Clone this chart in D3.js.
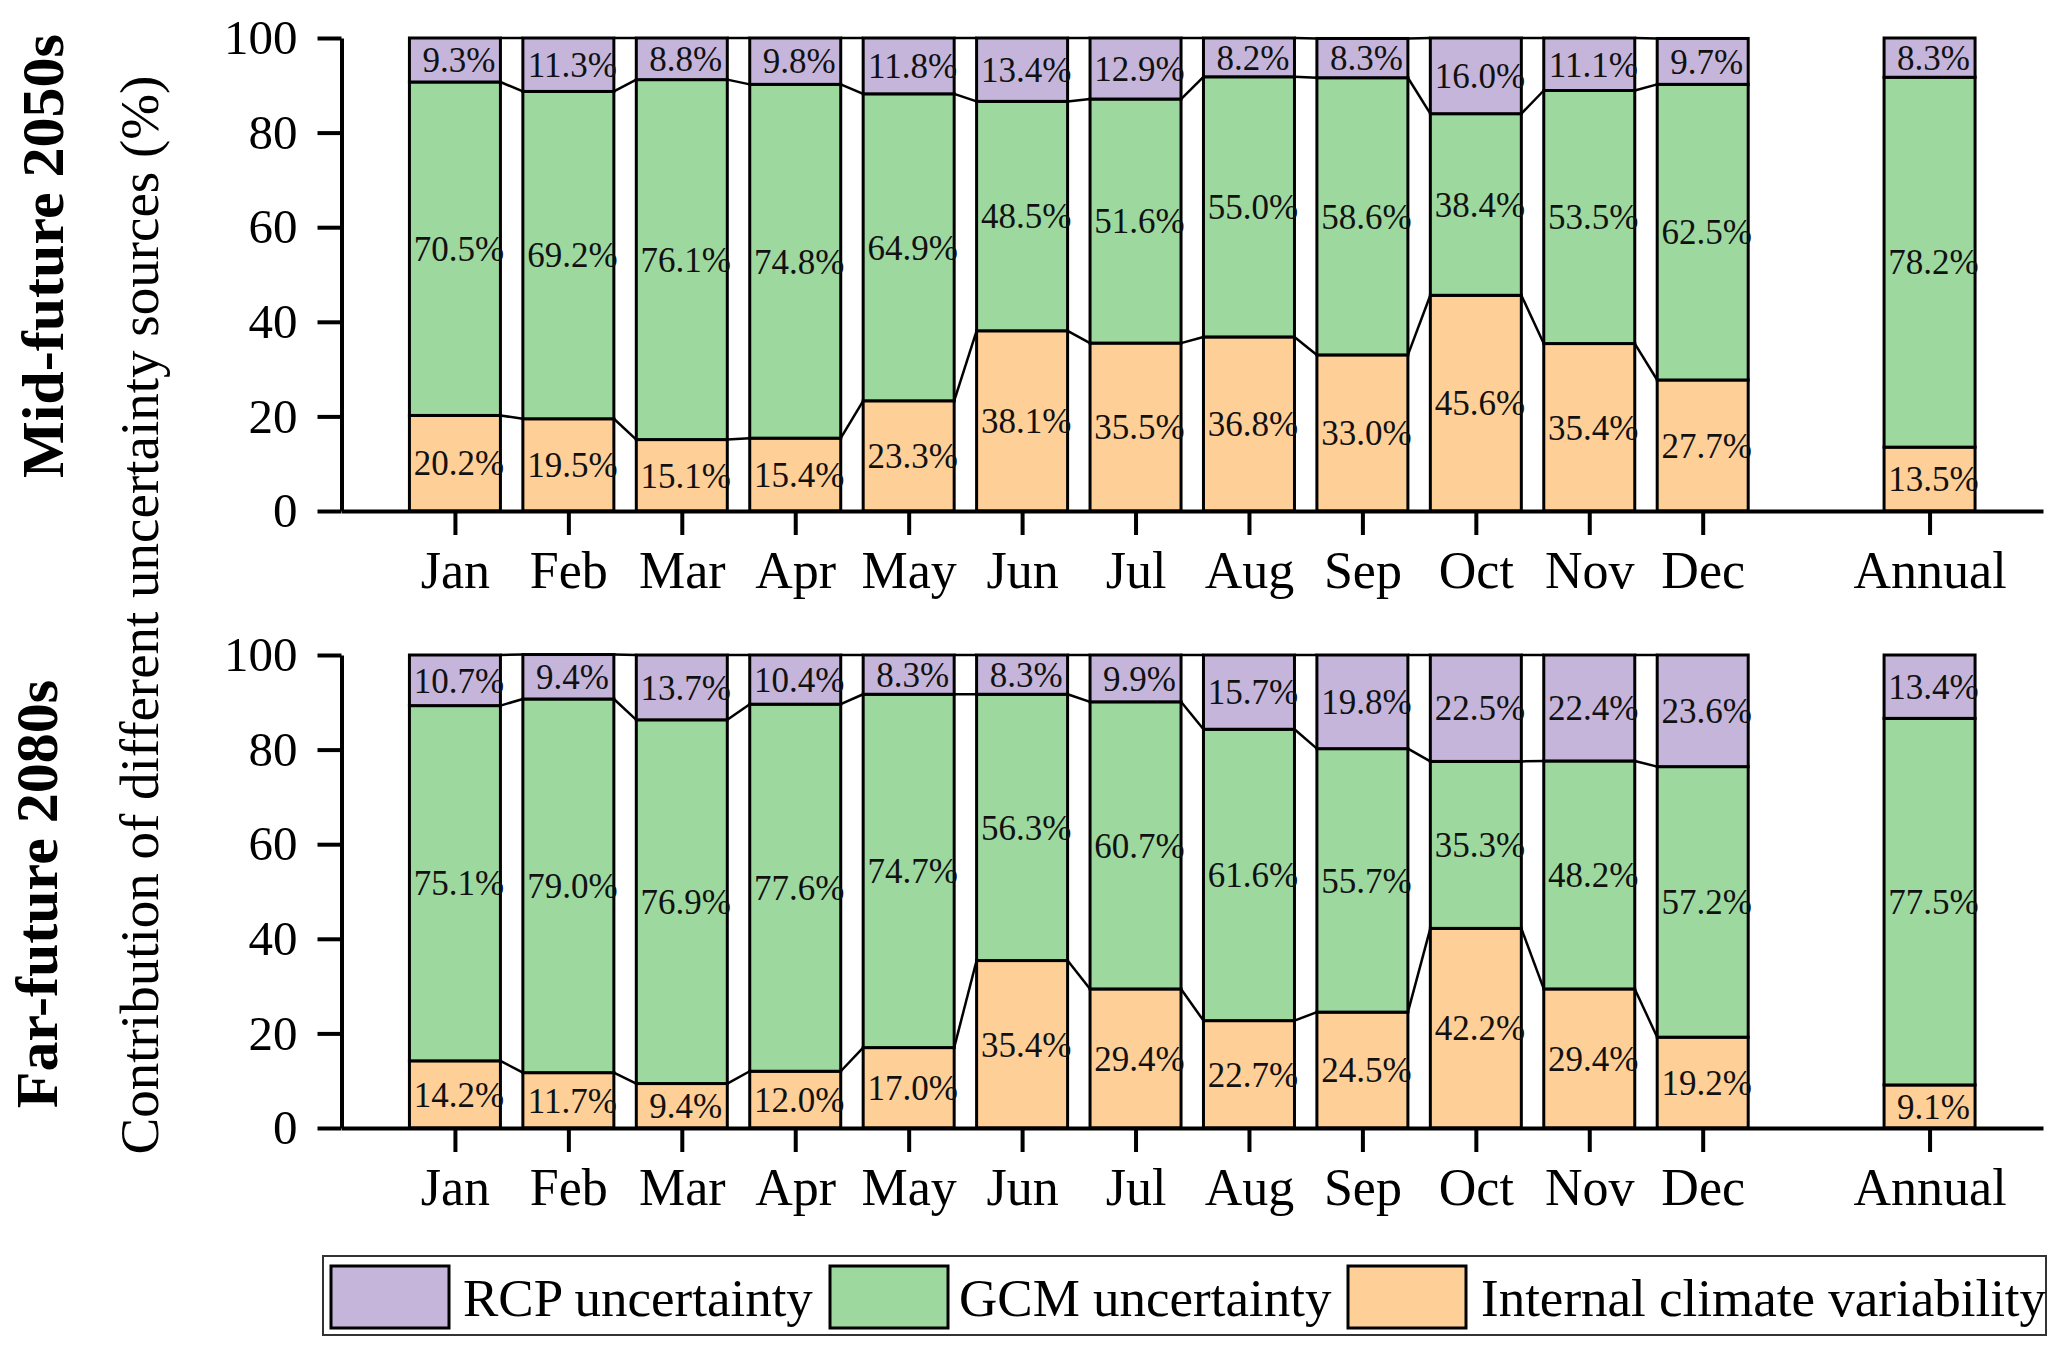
<!DOCTYPE html>
<head>
  <style>
    body { margin: 0; background: #fff; }
    text { font-family: "Liberation Serif", "Times New Roman", serif; }
  </style>
<title>Contribution of uncertainty sources</title>
</head>
<body>
<script src="https://cdn.jsdelivr.net/npm/d3@7"></script>
<script>
// categories
const months = ["Jan","Feb","Mar","Apr","May","Jun","Jul","Aug","Sep","Oct","Nov","Dec","Annual"];
const slots  = [0,1,2,3,4,5,6,7,8,9,10,11,13];
const yTicks = [0,20,40,60,80,100];

// Mid-future 2050s (%)
const rcp2050 = [9.3,11.3,8.8,9.8,11.8,13.4,12.9,8.2,8.3,16.0,11.1,9.7,8.3];
const gcm2050 = [70.5,69.2,76.1,74.8,64.9,48.5,51.6,55.0,58.6,38.4,53.5,62.5,78.2];
const icv2050 = [20.2,19.5,15.1,15.4,23.3,38.1,35.5,36.8,33.0,45.6,35.4,27.7,13.5];

// Far-future 2080s (%)
const rcp2080 = [10.7,9.4,13.7,10.4,8.3,8.3,9.9,15.7,19.8,22.5,22.4,23.6,13.4];
const gcm2080 = [75.1,79.0,76.9,77.6,74.7,56.3,60.7,61.6,55.7,35.3,48.2,57.2,77.5];
const icv2080 = [14.2,11.7,9.4,12.0,17.0,35.4,29.4,22.7,24.5,42.2,29.4,19.2,9.1];

const keys = ["icv","gcm","rcp"];
const colors = {rcp: "#c5b5da", gcm: "#9dd89f", icv: "#fecf97"};
const legendNames = [["rcp","RCP uncertainty"],["gcm","GCM uncertainty"],["icv","Internal climate variability"]];

const W = 2067, H = 1351;
const svg = d3.select("body").append("svg").attr("width", W).attr("height", H);

const x = d3.scaleLinear().domain([-1,14]).range([341.5,2043]);
const bw = 91;

function table(rcp,gcm,icv){
  return months.map(function(m,i){ return {month:m, slot:slots[i], rcp:rcp[i], gcm:gcm[i], icv:icv[i]}; });
}

function drawPanel(data, y0, y1){
  const y = d3.scaleLinear().domain([0,100]).range([y0,y1]);
  const g = svg.append("g");
  const series = d3.stack().keys(keys)(data);

  // connector lines between neighbouring monthly bars
  series.forEach(function(s){
    for (let i = 0; i < 11; i++){
      g.append("line")
        .attr("x1", x(data[i].slot)+bw/2).attr("y1", y(s[i][1]))
        .attr("x2", x(data[i+1].slot)-bw/2).attr("y2", y(s[i+1][1]))
        .attr("stroke","#000").attr("stroke-width",2.5);
    }
  });

  series.forEach(function(s){
    g.selectAll(null).data(s).enter().append("rect")
      .attr("x", function(d){ return x(d.data.slot)-bw/2; })
      .attr("width", bw)
      .attr("y", function(d){ return y(d[1]); })
      .attr("height", function(d){ return y(d[0])-y(d[1]); })
      .attr("fill", colors[s.key])
      .attr("stroke","#000").attr("stroke-width",3);
    g.selectAll(null).data(s).enter().append("text")
      .attr("x", function(d){ return x(d.data.slot)+4; })
      .attr("y", function(d){ return y((d[0]+d[1])/2); })
      .attr("dy","0.35em")
      .attr("text-anchor","middle")
      .attr("font-size",35)
      .attr("fill","#111")
      .text(function(d){ return d.data[s.key].toFixed(1)+"%"; });
  });

  // axes
  const ya = g.append("g").attr("transform","translate("+x(-1)+",0)")
    .call(d3.axisLeft(y).tickValues(yTicks).tickSize(24).tickSizeOuter(0).tickPadding(20));
  ya.selectAll("text").attr("font-size",49).attr("fill","#000");

  const xa = g.append("g").attr("transform","translate(0,"+y0+")")
    .call(d3.axisBottom(x).tickValues(slots).tickSize(24).tickSizeOuter(0)
      .tickFormat(function(d){ return months[slots.indexOf(d)]; }));
  xa.selectAll("text").attr("font-size",52)
    .attr("fill","#000").attr("dy",null).attr("y",77);

  [ya, xa].forEach(function(a){
    a.selectAll("path,line").attr("stroke","#000").attr("stroke-width",4);
  });
}

drawPanel(table(rcp2050,gcm2050,icv2050), 511, 38);
drawPanel(table(rcp2080,gcm2080,icv2080), 1128, 655);

// panel titles
svg.append("text").attr("transform","translate(63,256) rotate(-90)")
  .attr("text-anchor","middle").attr("font-size",60).attr("font-weight","bold")
  .text("Mid-future 2050s");
svg.append("text").attr("transform","translate(57,894) rotate(-90)")
  .attr("text-anchor","middle").attr("font-size",60).attr("font-weight","bold")
  .text("Far-future 2080s");
svg.append("text").attr("transform","translate(158,615) rotate(-90)")
  .attr("text-anchor","middle").attr("font-size",55)
  .text("Contribution of different uncertainty sources (%)");

// legend
const lg = svg.append("g");
lg.append("rect").attr("x",323).attr("y",1256).attr("width",1723).attr("height",79)
  .attr("fill","#fff").attr("stroke","#333").attr("stroke-width",2);
const lx = [331, 830, 1348];
const tx = [463, 959, 1481];
legendNames.forEach(function(d,i){
  lg.append("rect").attr("x",lx[i]).attr("y",1266).attr("width",118).attr("height",62)
    .attr("fill",colors[d[0]]).attr("stroke","#000").attr("stroke-width",3);
  lg.append("text").attr("x",tx[i]).attr("y",1316).attr("font-size",53).text(d[1]);
});
</script>
</body>
